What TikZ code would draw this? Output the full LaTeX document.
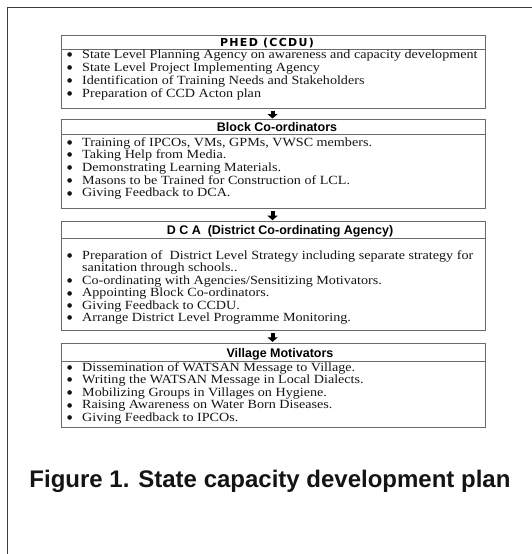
\documentclass[tikz,border=0pt]{standalone}
\usepackage{fontspec}
\setmainfont{Liberation Serif}[FakeStretch=1.13]
\newfontfamily\titlefont{Liberation Sans}
\newfontfamily\phedfont{DejaVu Sans}[LetterSpace=12]
\newfontfamily\bulfont{DejaVu Sans}
\usetikzlibrary{arrows.meta}
\definecolor{framegray}{HTML}{3C3C3C}
\definecolor{boxgray}{HTML}{6A6A6A}
\definecolor{textdark}{HTML}{141414}
\tikzset{
  outerframe/.style={draw=framegray, line width=1.6pt},
  boxframe/.style={draw=boxgray, line width=1.1pt, minimum width=424pt, anchor=north west, inner sep=0pt},
  sepline/.style={draw=boxgray, line width=1pt},
  titletext/.style={anchor=base, inner sep=0pt, font=\titlefont\bfseries\fontsize{12.5}{14}\selectfont, text=black},
  phedtext/.style={anchor=base, inner sep=0pt, font=\phedfont\bfseries\fontsize{11}{13}\selectfont, text=black},
  itemtext/.style={anchor=base west, inner sep=0pt, font=\fontsize{12.5}{13}\selectfont, text=textdark},
  downarrow/.style={draw=black, line width=4pt, -{Triangle[width=10pt,length=4.5pt]}},
  captiontext/.style={anchor=base, inner sep=0pt, font=\titlefont\bfseries\fontsize{24}{28}\selectfont, text=textdark}
}
\newcommand\bul[1]{\makebox[16pt][l]{\ifnum#1=1\hspace{0.8pt}\raisebox{1.8pt}{\bulfont\fontsize{6}{6}\selectfont ●}\fi}}
\begin{document}
\begin{tikzpicture}[x=1pt,y=-1pt]
\useasboundingbox (0,0) rectangle (531,554);
% outer frame (left and top edges)
\draw[outerframe] (7.5,556) -- (7.5,7.5) -- (533,7.5);

% Box 1
\node[boxframe, minimum height=73.3pt] (f1) at (61,35) {};
\draw[sepline] (61,49.3) -- (485,49.3);
\node[phedtext] (t1) at (267,46) {PHED (CCDU)};
\foreach \b/\t [count=\k] in {
  1/{State Level Planning Agency on awareness and capacity development},
  1/{State Level Project Implementing Agency},
  1/{Identification of Training Needs and Stakeholders},
  1/{Preparation of CCD Acton plan}}
  {\node[itemtext] (a1-\k) at (66,{58+(\k-1)*13}) {\bul{\b}\t};}

% Box 2
\node[boxframe, minimum height=88.4pt] (f2) at (61,119.3) {};
\draw[sepline] (61,134.3) -- (485,134.3);
\node[titletext] (t2) at (277,131.4) {Block Co-ordinators};
\foreach \b/\t [count=\k] in {
  1/{Training of IPCOs, VMs, GPMs, VWSC members.},
  1/{Taking Help from Media.},
  1/{Demonstrating Learning Materials.},
  1/{Masons to be Trained for Construction of LCL.},
  1/{Giving Feedback to DCA.}}
  {\node[itemtext] (a2-\k) at (66,{146+(\k-1)*12.7}) {\bul{\b}\t};}

% Box 3
\node[boxframe, minimum height=109pt] (f3) at (61,221) {};
\draw[sepline] (61,238.3) -- (485,238.3);
\node[titletext] (t3) at (280,234.4) {D C A~ (District Co-ordinating Agency)};
\foreach \b/\t [count=\k] in {
  1/{Preparation of~ District Level Strategy including separate strategy for},
  0/{sanitation through schools..},
  1/{Co-ordinating with Agencies/Sensitizing Motivators.},
  1/{Appointing Block Co-ordinators.},
  1/{Giving Feedback to CCDU.},
  1/{Arrange District Level Programme Monitoring.}}
  {\node[itemtext] (a3-\k) at (66,{259.5+(\k-1)*12.45}) {\bul{\b}\t};}

% Box 4
\node[boxframe, minimum height=84.6pt] (f4) at (61,342.7) {};
\draw[sepline] (61,361) -- (485,361);
\node[titletext] (t4) at (280,357.4) {Village Motivators};
\foreach \b/\t [count=\k] in {
  1/{Dissemination of WATSAN Message to Village.},
  1/{Writing the WATSAN Message in Local Dialects.},
  1/{Mobilizing Groups in Villages on Hygiene.},
  1/{Raising Awareness on Water Born Diseases.},
  1/{Giving Feedback to IPCOs.}}
  {\node[itemtext] (a4-\k) at (66,{371+(\k-1)*12.6}) {\bul{\b}\t};}

% Arrows
\draw[downarrow, shorten <=1.2pt, shorten >=0.8pt] ([xshift=-1pt]f1.south) -- ([xshift=-1pt]f2.north);
\draw[downarrow, shorten <=2.5pt, shorten >=0.8pt] ([xshift=-1pt]f2.south) -- ([xshift=-1pt]f3.north);
\draw[downarrow, shorten <=2pt, shorten >=0.8pt] ([xshift=-1pt]f3.south) -- ([xshift=-1pt]f4.north);

% Caption
\node[captiontext] (cap) at (270,487) {Figure 1. State capacity development plan};
\end{tikzpicture}
\end{document}
